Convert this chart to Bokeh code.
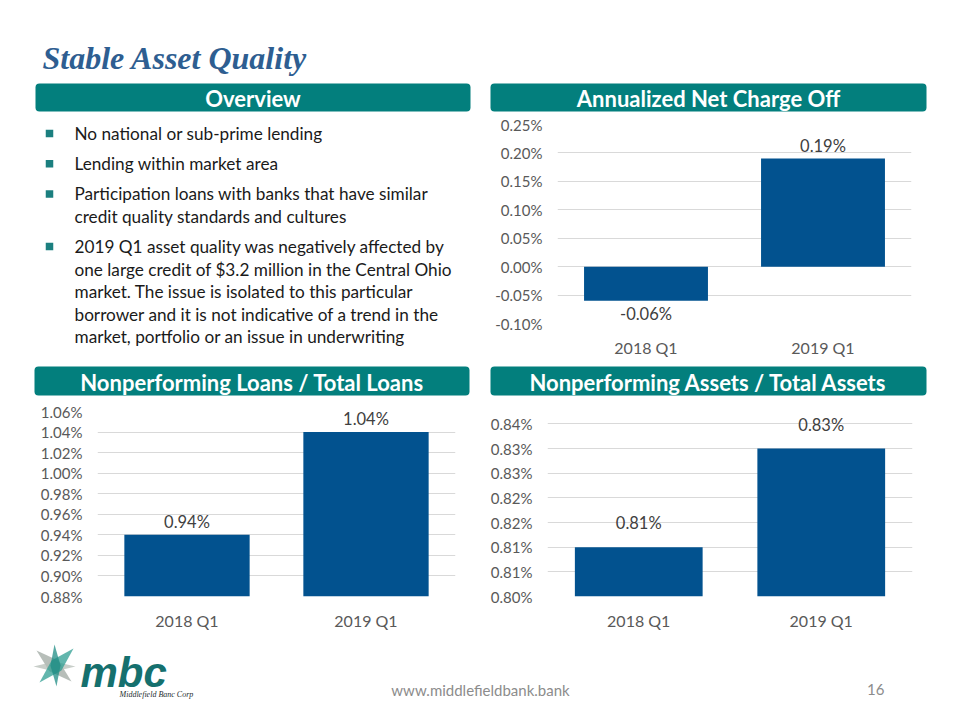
from bokeh.plotting import figure
from bokeh.layouts import column, row
from bokeh.models import (Range1d, FactorRange, FixedTicker, PrintfTickFormatter,
                          BoxAnnotation, ColumnDataSource, LabelSet)
from bokeh.core.properties import value
from bokeh.embed import file_html
from bokeh.resources import INLINE

# ---------------- data ----------------
quarters = ["2018 Q1", "2019 Q1"]
ncf_values = [-0.06, 0.19]          # Annualized Net Charge Off (%)
npl_values = [0.94, 1.04]           # Nonperforming Loans / Total Loans (%)
npa_values = [0.81, 0.83]           # Nonperforming Assets / Total Assets (%)

ncf_ticks = [-0.10, -0.05, 0.00, 0.05, 0.10, 0.15, 0.20, 0.25]
npl_ticks = [0.88, 0.90, 0.92, 0.94, 0.96, 0.98, 1.00, 1.02, 1.04, 1.06]
npa_ticks = [0.800, 0.805, 0.810, 0.815, 0.820, 0.825, 0.830, 0.835]
npa_tick_labels = ["0.80%", "0.81%", "0.81%", "0.82%", "0.82%", "0.83%", "0.83%", "0.84%"]

title_text = "Stable Asset Quality"
headers = ["Overview", "Annualized Net Charge Off",
           "Nonperforming Loans / Total Loans", "Nonperforming Assets / Total Assets"]
overview_bullets = [
    ["No national or sub-prime lending"],
    ["Lending within market area"],
    ["Participation loans with banks that have similar",
     "credit quality standards and cultures"],
    ["2019 Q1 asset quality was negatively affected by",
     "one large credit of $3.2 million in the Central Ohio",
     "market. The issue is isolated to this particular",
     "borrower and it is not indicative of a trend in the",
     "market, portfolio or an issue in underwriting"],
]
footer_url = "www.middlefieldbank.bank"
page_number = "16"

# ---------------- styles ----------------
FONT = "Lato"
TEAL = "#037F7D"
BAR = "#02528F"
TITLE_C = "#2E5E91"
TICK_C = "#595959"
LABEL_C = "#404040"
GRID_C = "#D9D9D9"


def canvas(x0, x1, y0, y1):
    p = figure(width=x1 - x0, height=y1 - y0,
               x_range=Range1d(x0, x1), y_range=Range1d(y1, y0),
               x_axis_type=None, y_axis_type=None,
               toolbar_location=None, output_backend="svg", min_border=0)
    p.frame_align = False
    p.outline_line_color = None
    p.background_fill_color = "white"
    p.border_fill_color = "white"
    return p


def header_bar(p, left, right, top, bottom, text):
    p.add_layout(BoxAnnotation(left=left, right=right, top=top, bottom=bottom,
                               fill_color=TEAL, fill_alpha=1.0, line_color=None,
                               border_radius=4, level="underlay"))
    p.text(x=[(left + right) / 2], y=[(top + bottom) / 2 + 1], text=[text],
           text_align="center", text_baseline="middle", text_color="white",
           text_font=value(FONT), text_font_style="bold", text_font_size="22px")


def bar_chart(x0, x1, y0, y1, fl, fr, ft, fb, values, ticks, label_gap,
              overrides=None, top_pad=0.0):
    # top_pad: extra headroom above the last tick, in tick steps
    step = ticks[1] - ticks[0]
    frame_h = fb - ft
    px_per_step = frame_h / (len(ticks) - 1)
    extra_px = int(round(top_pad * px_per_step))
    p = figure(width=x1 - x0, height=y1 - y0,
               x_range=FactorRange(factors=quarters),
               y_range=Range1d(ticks[0], ticks[-1] + top_pad * step),
               toolbar_location=None, output_backend="svg",
               min_border_left=fl - x0, min_border_right=x1 - fr,
               min_border_top=ft - y0 - extra_px, min_border_bottom=y1 - fb)
    p.frame_align = False
    p.outline_line_color = None
    p.xgrid.grid_line_color = None
    p.ygrid.grid_line_color = GRID_C
    p.ygrid.grid_line_width = 1
    base = max(ticks[0], 0.0)
    p.vbar(x=quarters, top=values, bottom=base, width=0.7,
           fill_color=BAR, line_color=None)
    src = ColumnDataSource(dict(
        x=quarters, y=values,
        t=[f"{v:.2f}%" for v in values],
        off=[label_gap if v >= 0 else -label_gap for v in values]))
    p.add_layout(LabelSet(x="x", y="y", text="t", y_offset="off", source=src,
                          text_align="center", text_baseline="middle",
                          text_color=LABEL_C, text_font=value(FONT),
                          text_font_size="16.5px"))
    ya = p.yaxis[0]
    ya.ticker = FixedTicker(ticks=ticks)
    ya.formatter = PrintfTickFormatter(format="%.2f%%")
    if overrides:
        ya.major_label_overrides = overrides
    ya.axis_line_color = None
    ya.major_tick_line_color = None
    ya.minor_tick_line_color = None
    ya.major_tick_out = 0
    ya.major_tick_in = 0
    ya.major_label_standoff = 15
    ya.major_label_text_color = TICK_C
    ya.major_label_text_font = FONT
    ya.major_label_text_font_size = "15px"
    xa = p.xaxis[0]
    xa.axis_line_color = None
    xa.major_tick_line_color = None
    xa.major_tick_out = 0
    xa.major_tick_in = 0
    xa.major_label_standoff = 14
    xa.major_label_text_color = TICK_C
    xa.major_label_text_font = FONT
    xa.major_label_text_font_size = "16px"
    return p


# ---------------- strip A: title + first headers ----------------
pa = canvas(0, 952, 0, 112)
pa.text(x=[42], y=[57], text=[title_text], text_align="left",
        text_baseline="alphabetic", text_color=TITLE_C,
        text_font=value("Liberation Serif"), text_font_style="bold italic",
        text_font_size="32px")
header_bar(pa, 35, 470, 83, 111, headers[0])
header_bar(pa, 490, 926, 83, 111, headers[1])

# ---------------- row B: overview text + NCF chart ----------------
pov = canvas(0, 480, 112, 362)
line_h = 22.5
para_gap = 7.7
y_cur = 133
bx, by, tx, ty, tt = [], [], [], [], []
for bullet in overview_bullets:
    bx.append(49)
    by.append(y_cur)
    for ln in bullet:
        tx.append(74)
        ty.append(y_cur)
        tt.append(ln)
        y_cur += line_h
    y_cur += para_gap
pov.scatter(x=bx, y=by, marker="square", size=7.5, fill_color="#1B7F7F",
            line_color=None)
pov.text(x=tx, y=ty, text=tt, text_align="left", text_baseline="middle",
         text_color="#1A1A1A", text_font=value(FONT), text_font_size="17.2px")

pncf = bar_chart(480, 952, 112, 362, 557, 911, 124, 323, ncf_values, ncf_ticks, 13)

# ---------------- strip C: second headers ----------------
pc = canvas(0, 952, 362, 398)
header_bar(pc, 34, 469, 366, 395, headers[2])
header_bar(pc, 490, 926, 366, 395, headers[3])

# ---------------- row D: NPL + NPA charts ----------------
pnpl = bar_chart(0, 480, 398, 635, 97, 455, 411, 596, npl_values, npl_ticks, 13)
pnpa = bar_chart(480, 952, 398, 635, 547, 912, 423, 596, npa_values, npa_ticks, 24,
                 overrides={t: l for t, l in zip(npa_ticks, npa_tick_labels)},
                 top_pad=0.5)

# ---------------- strip E: footer ----------------
pe = canvas(0, 952, 635, 712)
cx, cy = 55, 666


def diamond(ax, ay, bx_, by_, w):
    mx, my = (ax + bx_) / 2, (ay + by_) / 2
    dx, dy = bx_ - ax, by_ - ay
    n = (dx * dx + dy * dy) ** 0.5
    px, py = -dy / n * w, dx / n * w
    return [ax, mx + px, bx_, mx - px], [ay, my + py, by_, my - py]


shapes = [
    (cx - 19, cy - 16, cx + 16, cy + 15, 7, "#9FA8A2"),
    (cx - 22, cy, cx + 20, cy, 5, "#B5BDB7"),
    (cx - 16, cy + 16, cx + 18, cy - 18, 7, "#2E9E92"),
    (cx - 1, cy - 22, cx + 1, cy + 20, 5, "#1F8C84"),
]
xs, ys, cols = [], [], []
for ax, ay, bx_, by_, w, c in shapes:
    dxs, dys = diamond(ax, ay, bx_, by_, w)
    xs.append(dxs)
    ys.append(dys)
    cols.append(c)
pe.patches(xs=xs, ys=ys, fill_color=cols, fill_alpha=0.75, line_color=None)
pe.text(x=[80], y=[672], text=["mbc"], text_align="left", text_baseline="middle",
        text_color="#15706E", text_font=value("Liberation Sans"),
        text_font_style="bold italic", text_font_size="42px")
pe.text(x=[119], y=[694], text=["Middlefield Banc Corp"], text_align="left",
        text_baseline="middle", text_color="#1E2E2E",
        text_font=value("Liberation Serif"), text_font_style="italic",
        text_font_size="8px")
pe.text(x=[480], y=[689], text=[footer_url], text_align="center",
        text_baseline="middle", text_color="#8C8C8C",
        text_font=value(FONT), text_font_size="15px")
pe.text(x=[884], y=[689], text=[page_number], text_align="right",
        text_baseline="middle", text_color="#8C8C8C",
        text_font=value(FONT), text_font_size="15px")

layout = column(pa, row(pov, pncf), pc, row(pnpl, pnpa), pe, spacing=0)

open("out.html", "w").write(file_html(layout, INLINE))
